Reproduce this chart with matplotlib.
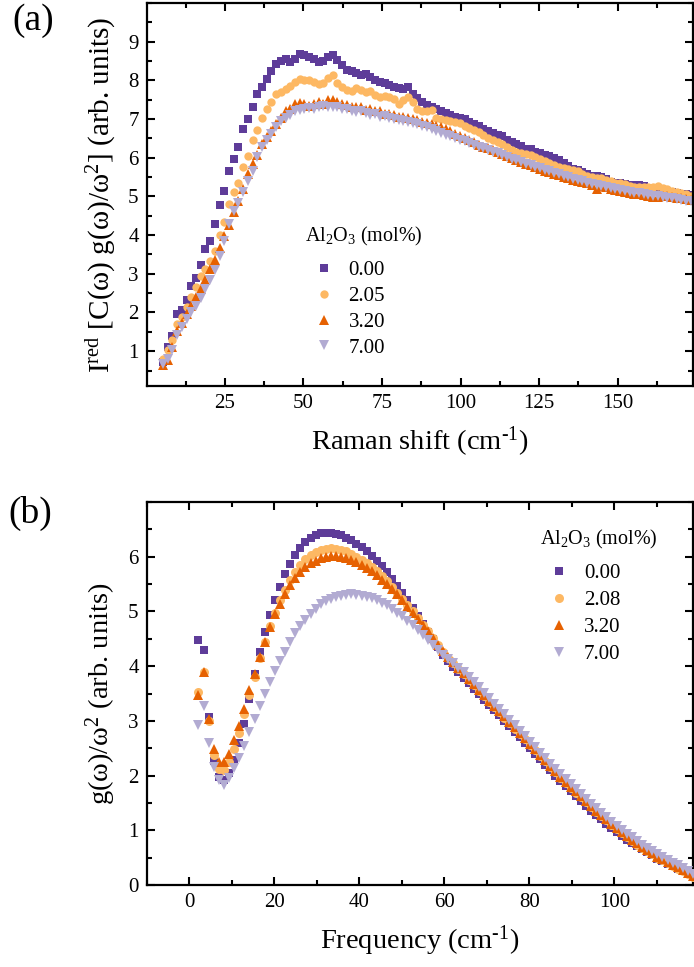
import numpy as np
import matplotlib
matplotlib.use("Agg")
import matplotlib.pyplot as plt
from matplotlib.ticker import MultipleLocator, FixedLocator

plt.rcParams['font.family'] = ['Liberation Serif', 'DejaVu Serif']
plt.rcParams['mathtext.fontset'] = 'custom'
plt.rcParams['mathtext.rm'] = 'Liberation Serif'
plt.rcParams['mathtext.default'] = 'regular'

# colours / labels
colors = ['#5e3c99', '#fdb863', '#e66101', '#b2abd2']
markers = ['s', 'o', '^', 'v']
labels_a = ['0.00', '2.05', '3.20', '7.00']
labels_b = ['0.00', '2.08', '3.20', '7.00']

# ---- panel (a): reduced Raman intensity, x from 5.3 in steps of 1.5 cm-1
a_x0, a_step = 5.3, 1.5
a_000 = [0.71, 1.11, 1.39, 1.97, 2.06, 2.33, 2.69, 2.88, 3.22, 3.63,
         3.85, 4.29, 4.78, 5.14, 5.67, 5.97, 6.27, 6.75, 6.99, 7.32,
         7.65, 7.84, 8.04, 8.25, 8.42, 8.49, 8.55, 8.48, 8.55, 8.68,
         8.66, 8.60, 8.54, 8.48, 8.50, 8.60, 8.66, 8.52, 8.40, 8.28,
         8.24, 8.20, 8.14, 8.17, 8.10, 8.02, 7.96, 7.94, 7.87, 7.82,
         7.80, 7.78, 7.82, 7.65, 7.54, 7.45, 7.37, 7.30, 7.25, 7.22,
         7.16, 7.11, 7.06, 7.04, 6.99, 6.93, 6.88, 6.83, 6.75, 6.69,
         6.63, 6.60, 6.56, 6.47, 6.41, 6.36, 6.30, 6.23, 6.22, 6.16,
         6.11, 6.08, 6.05, 6.00, 5.94, 5.86, 5.79, 5.72, 5.68, 5.64,
         5.58, 5.54, 5.52, 5.50, 5.44, 5.38, 5.36, 5.34, 5.32, 5.30,
         5.29, 5.30, 5.28, 5.23, 5.20, 5.18, 5.16, 5.13, 5.11, 5.09,
         5.07, 5.05, 5.03]
a_205 = [0.80, 1.02, 1.30, 1.71, 1.89, 2.14, 2.40, 2.66, 2.94, 3.13,
         3.32, 3.59, 4.00, 4.33, 4.80, 5.12, 5.35, 5.77, 6.04, 6.46,
         6.71, 7.02, 7.27, 7.43, 7.64, 7.69, 7.77, 7.85, 7.96, 8.03,
         8.02, 8.00, 7.95, 7.91, 7.93, 8.05, 8.15, 7.93, 7.82, 7.74,
         7.72, 7.80, 7.74, 7.69, 7.72, 7.62, 7.57, 7.60, 7.58, 7.53,
         7.40, 7.48, 7.56, 7.45, 7.26, 7.22, 7.20, 7.24, 7.04, 6.99,
         6.98, 6.95, 6.92, 6.89, 6.82, 6.76, 6.71, 6.66, 6.58, 6.52,
         6.46, 6.40, 6.35, 6.28, 6.21, 6.16, 6.12, 6.10, 6.06, 6.01,
         5.96, 5.92, 5.87, 5.82, 5.77, 5.74, 5.71, 5.69, 5.66, 5.58,
         5.53, 5.51, 5.48, 5.47, 5.43, 5.39, 5.36, 5.34, 5.31, 5.28,
         5.24, 5.25, 5.25, 5.24, 5.24, 5.26, 5.22, 5.18, 5.15, 5.12,
         5.10, 5.06, 5.02]
a_320 = [0.65, 0.78, 1.12, 1.52, 1.72, 1.97, 2.16, 2.39, 2.62, 2.85,
         3.13, 3.35, 3.67, 3.98, 4.26, 4.60, 4.88, 5.20, 5.57, 5.84,
         6.08, 6.36, 6.54, 6.70, 6.88, 7.02, 7.20, 7.26, 7.38, 7.42,
         7.39, 7.35, 7.40, 7.43, 7.40, 7.48, 7.50, 7.43, 7.40, 7.36,
         7.31, 7.32, 7.30, 7.24, 7.27, 7.20, 7.21, 7.14, 7.12, 7.10,
         7.06, 7.05, 7.02, 7.00, 6.98, 6.93, 6.91, 6.86, 6.83, 6.79,
         6.75, 6.69, 6.62, 6.57, 6.50, 6.46, 6.41, 6.34, 6.28, 6.24,
         6.20, 6.16, 6.09, 6.04, 5.99, 5.94, 5.89, 5.84, 5.80, 5.76,
         5.71, 5.67, 5.63, 5.59, 5.55, 5.51, 5.47, 5.43, 5.40, 5.38,
         5.36, 5.30, 5.20, 5.26, 5.24, 5.19, 5.16, 5.14, 5.11, 5.09,
         5.07, 5.05, 5.03, 5.01, 4.99, 4.99, 5.02, 5.01, 4.98, 4.97,
         4.95, 4.93, 4.92]
a_700 = [0.66, 0.80, 1.04, 1.42, 1.62, 1.82, 2.00, 2.18, 2.38, 2.60,
         2.85, 3.10, 3.45, 3.86, 4.28, 4.62, 4.83, 5.11, 5.40, 5.67,
         6.03, 6.28, 6.46, 6.62, 6.79, 6.94, 7.04, 7.11, 7.20, 7.24,
         7.27, 7.28, 7.27, 7.31, 7.34, 7.30, 7.32, 7.30, 7.27, 7.25,
         7.22, 7.18, 7.20, 7.15, 7.10, 7.12, 7.05, 7.07, 7.02, 7.00,
         6.97, 6.95, 6.92, 6.89, 6.87, 6.83, 6.79, 6.74, 6.68, 6.63,
         6.59, 6.55, 6.50, 6.46, 6.42, 6.38, 6.33, 6.29, 6.24, 6.19,
         6.15, 6.11, 6.06, 6.02, 5.98, 5.93, 5.89, 5.85, 5.81, 5.77,
         5.73, 5.69, 5.65, 5.61, 5.57, 5.53, 5.49, 5.45, 5.42, 5.39,
         5.36, 5.33, 5.30, 5.27, 5.24, 5.21, 5.19, 5.17, 5.14, 5.12,
         5.10, 5.08, 5.06, 5.04, 5.02, 5.00, 4.99, 4.97, 4.95, 4.93,
         4.91, 4.89, 4.87]

# ---- panel (b): g(w)/w^2, x from 2.1 in steps of 1.2 cm-1
b_x0, b_step = 2.1, 1.2
b_000 = [4.48, 4.29, 3.07, 2.27, 1.97, 1.92, 2.05, 2.28, 2.60, 2.95,
         3.40, 3.85, 4.25, 4.62, 4.93, 5.21, 5.45, 5.68, 5.87, 6.03,
         6.16, 6.27, 6.35, 6.40, 6.43, 6.44, 6.44, 6.42, 6.39, 6.35,
         6.30, 6.24, 6.17, 6.10, 6.02, 5.93, 5.83, 5.72, 5.60, 5.47,
         5.34, 5.20, 5.06, 4.92, 4.77, 4.63, 4.49, 4.35, 4.21, 4.09,
         3.99, 3.89, 3.79, 3.69, 3.59, 3.49, 3.39, 3.29, 3.19, 3.10,
         3.00, 2.90, 2.80, 2.70, 2.60, 2.50, 2.40, 2.30, 2.20, 2.10,
         2.00, 1.90, 1.81, 1.72, 1.63, 1.54, 1.45, 1.36, 1.28, 1.20,
         1.12, 1.04, 0.97, 0.90, 0.83, 0.77, 0.71, 0.65, 0.60, 0.54,
         0.48, 0.43, 0.38, 0.34, 0.29, 0.25, 0.20, 0.15]
b_208 = [3.53, 3.90, 3.00, 2.38, 2.12, 2.10, 2.25, 2.48, 2.78, 3.12,
         3.47, 3.80, 4.15, 4.45, 4.74, 4.98, 5.20, 5.40, 5.57, 5.72,
         5.85, 5.95, 6.03, 6.09, 6.13, 6.15, 6.16, 6.15, 6.13, 6.10,
         6.05, 6.00, 5.94, 5.88, 5.81, 5.73, 5.64, 5.55, 5.45, 5.34,
         5.23, 5.12, 5.00, 4.88, 4.76, 4.64, 4.52, 4.39, 4.26, 4.15,
         4.05, 3.95, 3.85, 3.75, 3.65, 3.55, 3.45, 3.35, 3.25, 3.16,
         3.06, 2.96, 2.86, 2.76, 2.66, 2.56, 2.46, 2.36, 2.26, 2.16,
         2.06, 1.96, 1.87, 1.78, 1.69, 1.60, 1.51, 1.42, 1.34, 1.26,
         1.18, 1.10, 1.02, 0.95, 0.88, 0.81, 0.74, 0.68, 0.62, 0.56,
         0.50, 0.45, 0.40, 0.35, 0.30, 0.25, 0.20, 0.15]
b_320 = [3.47, 3.89, 3.04, 2.49, 2.25, 2.25, 2.40, 2.65, 2.90, 3.22,
         3.56, 3.86, 4.17, 4.44, 4.71, 4.96, 5.14, 5.32, 5.49, 5.61,
         5.72, 5.81, 5.88, 5.93, 5.98, 6.00, 6.02, 6.02, 6.00, 5.98,
         5.94, 5.90, 5.85, 5.79, 5.73, 5.66, 5.58, 5.50, 5.41, 5.31,
         5.20, 5.09, 4.98, 4.87, 4.76, 4.64, 4.52, 4.39, 4.27, 4.17,
         4.07, 3.97, 3.87, 3.77, 3.67, 3.57, 3.47, 3.37, 3.27, 3.18,
         3.08, 2.98, 2.88, 2.78, 2.68, 2.58, 2.48, 2.38, 2.28, 2.18,
         2.08, 1.98, 1.89, 1.80, 1.71, 1.62, 1.53, 1.44, 1.36, 1.28,
         1.20, 1.12, 1.04, 0.97, 0.90, 0.83, 0.76, 0.70, 0.64, 0.58,
         0.52, 0.47, 0.42, 0.37, 0.32, 0.27, 0.22, 0.17]
b_700 = [2.92, 3.28, 2.59, 2.15, 1.92, 1.82, 1.95, 2.13, 2.32, 2.54,
         2.79, 3.03, 3.27, 3.50, 3.71, 3.91, 4.09, 4.26, 4.44, 4.60,
         4.73, 4.85, 4.96, 5.05, 5.13, 5.19, 5.23, 5.26, 5.29, 5.30,
         5.31, 5.30, 5.29, 5.27, 5.24, 5.20, 5.16, 5.11, 5.05, 4.98,
         4.91, 4.83, 4.75, 4.66, 4.57, 4.48, 4.39, 4.30, 4.21, 4.13,
         4.05, 3.97, 3.89, 3.80, 3.71, 3.61, 3.51, 3.41, 3.31, 3.22,
         3.12, 3.02, 2.92, 2.82, 2.72, 2.62, 2.52, 2.42, 2.32, 2.22,
         2.12, 2.02, 1.93, 1.84, 1.75, 1.66, 1.57, 1.48, 1.40, 1.32,
         1.24, 1.16, 1.08, 1.01, 0.94, 0.87, 0.80, 0.74, 0.68, 0.62,
         0.56, 0.51, 0.46, 0.41, 0.36, 0.31, 0.26, 0.21]

fig = plt.figure(figsize=(6.94, 9.67), dpi=100)
ax1 = fig.add_axes([147/694, 1-386/967, 546/694, 383/967])
ax2 = fig.add_axes([147/694, 1-885/967, 546/694, 383/967])


def style(ax):
    for s in ax.spines.values():
        s.set_linewidth(1.6)
    ax.tick_params(which='both', direction='in', top=True, right=True,
                   width=1.5, labelsize=15)
    ax.tick_params(which='major', length=6, pad=6)
    ax.tick_params(which='minor', length=3.5)


def add_legend(ax, handles, labels, anchor, spacing):
    leg = ax.legend(handles, labels, title='Al$_2$O$_3$ (mol%)',
                    loc='upper left', bbox_to_anchor=anchor,
                    frameon=False, fontsize=15, title_fontsize=14.5,
                    handlelength=1.8, handletextpad=0.3,
                    labelspacing=spacing, borderpad=0, borderaxespad=0,
                    alignment='left')
    # a bit more room between the title and the entries
    leg._legend_box.sep = 9
    return leg


# panel (a)
series_a = [a_000, a_205, a_320, a_700]
sizes_a = [5.5, 6.0, 6.5, 6.5]
for ys, c, m, lab, ms in zip(series_a, colors, markers, labels_a, sizes_a):
    xs = a_x0 + a_step*np.arange(len(ys))
    ax1.plot(xs, ys, ls='none', marker=m, color=c, ms=ms, mew=0, label=lab)
ax1.set_xlim(0.2, 174)
ax1.set_ylim(0.1, 10)
ax1.xaxis.set_major_locator(FixedLocator([25, 50, 75, 100, 125, 150]))
ax1.xaxis.set_minor_locator(FixedLocator(np.arange(12.5, 174, 12.5)))
ax1.yaxis.set_major_locator(FixedLocator(range(1, 10)))
ax1.yaxis.set_minor_locator(MultipleLocator(0.5))
style(ax1)
ax1.set_xlabel('Raman shift (cm$^{\u2010 1}$)', fontsize=20.5, labelpad=8)
ax1.set_ylabel('I$^{red}$ [C(ω) g(ω)/ω$^{2}$] (arb. units)', fontsize=21, labelpad=7)
h, l = ax1.get_legend_handles_labels()
add_legend(ax1, h, l, (0.289, 0.42), 0.3)

# panel (b)
series_b = [b_000, b_208, b_320, b_700]
order_b = [3, 0, 1, 2]
sizes_b = [5.5, 6.5, 7.0, 7.0]
for i in order_b:
    ys = series_b[i]
    xs = b_x0 + b_step*np.arange(len(ys))
    ax2.plot(xs, ys, ls='none', marker=markers[i], color=colors[i],
             ms=sizes_b[i], mew=0, label=labels_b[i], zorder=2+i)
ax2.set_xlim(-10, 118.5)
ax2.set_ylim(0, 7)
ax2.xaxis.set_major_locator(FixedLocator([0, 20, 40, 60, 80, 100]))
ax2.xaxis.set_minor_locator(MultipleLocator(10))
ax2.yaxis.set_major_locator(FixedLocator(range(0, 7)))
ax2.yaxis.set_minor_locator(MultipleLocator(0.5))
style(ax2)
ax2.set_xlabel('Frequency (cm$^{\u2010 1}$)', fontsize=20.5, labelpad=8)
ax2.set_ylabel('g(ω)/ω$^{2}$ (arb. units)', fontsize=20.5, labelpad=7)
h, l = ax2.get_legend_handles_labels()
idx = [l.index(s) for s in labels_b]
add_legend(ax2, [h[i] for i in idx], [l[i] for i in idx], (0.72, 0.932), 0.36)

fig.text(12/694, 1-3/967, '(a)', fontsize=27, va='top', ha='left')
fig.text(8/694, 1-496/967, '(b)', fontsize=27, va='top', ha='left')

fig.savefig('out.png', dpi=100)
